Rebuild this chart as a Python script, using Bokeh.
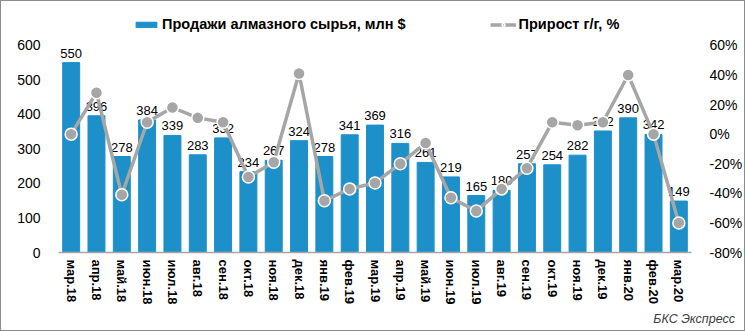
from bokeh.plotting import figure
from bokeh.models import (Range1d, LinearAxis, FixedTicker, PrintfTickFormatter,
                          ColumnDataSource, Legend, LegendItem, FactorRange, Div)
from bokeh.layouts import column
from bokeh.embed import file_html
from bokeh.resources import INLINE
from bokeh.core.properties import value

months = ["мар.18", "апр.18", "май.18", "июн.18", "июл.18", "авг.18", "сен.18", "окт.18",
          "ноя.18", "дек.18", "янв.19", "фев.19", "мар.19", "апр.19", "май.19", "июн.19",
          "июл.19", "авг.19", "сен.19", "окт.19", "ноя.19", "дек.19", "янв.20", "фев.20", "мар.20"]
sales = [550, 396, 278, 384, 339, 283, 332, 234, 267, 324, 278, 341, 369, 316, 261, 219,
         165, 180, 257, 254, 282, 352, 390, 342, 149]
growth = [0, 28, -41, 8, 18, 11, 8, -29, -19, 41, -45, -37, -33, -20, -6, -43,
          -52, -37, -23, 8, 6, 8, 40, 0, -60]
left_ticks = [0, 100, 200, 300, 400, 500, 600]
right_ticks = [-80, -60, -40, -20, 0, 20, 40, 60]

FONT = "Liberation Sans"
BAR = "#1E90C9"
GREY = "#A6A6A6"
BORDER = "1px solid #8C8C8C"

# layout: value axes span 208 px; extra 34 px above for the legend strip (inside frame)
AX_PX = 208.0
PAD_PX = 34.0
l_lo, l_hi = left_ticks[0], left_ticks[-1]
r_lo, r_hi = right_ticks[0], right_ticks[-1]
l_top = l_hi + PAD_PX * (l_hi - l_lo) / AX_PX
r_top = r_hi + PAD_PX * (r_hi - r_lo) / AX_PX

src = ColumnDataSource(dict(m=months, s=sales, g=growth, lbl=[str(v) for v in sales]))

p = figure(width=745, height=313, x_range=FactorRange(*months), y_range=Range1d(l_lo, l_top),
           output_backend="svg", toolbar_location=None,
           min_border_left=57, min_border_right=55, min_border_top=10, min_border_bottom=62)
p.styles = {"border-top": BORDER, "border-left": BORDER, "border-right": BORDER,
            "box-sizing": "border-box"}
p.outline_line_color = None
p.xgrid.grid_line_color = None
p.ygrid.grid_line_color = None
p.extra_y_ranges = {"pct": Range1d(r_lo, r_top)}

bars = p.vbar(x="m", top="s", width=0.67, source=src, color=BAR)
p.text(x="m", y="s", text="lbl", source=src, text_align="center", text_baseline="bottom",
       y_offset=-5, text_font=value(FONT), text_font_size="13px", text_color="#000000")
ln = p.line(x="m", y="g", source=src, y_range_name="pct", line_color=GREY, line_width=3.5)
sc = p.scatter(x="m", y="g", source=src, y_range_name="pct", size=12, fill_color=GREY,
               line_color="white", line_width=1.5)

# left axis
ya = p.yaxis[0]
ya.ticker = FixedTicker(ticks=left_ticks)
ya.axis_line_color = None
ya.major_tick_line_color = None
ya.minor_tick_line_color = None
ya.major_label_standoff = 12
ya.major_label_text_font = FONT
ya.major_label_text_font_size = "14px"
ya.major_label_text_color = "#000000"

# right axis
ra = LinearAxis(y_range_name="pct", ticker=FixedTicker(ticks=right_ticks),
                formatter=PrintfTickFormatter(format="%d%%"))
ra.axis_line_color = None
ra.major_tick_line_color = None
ra.minor_tick_line_color = None
ra.major_label_standoff = 12
ra.major_label_text_font = FONT
ra.major_label_text_font_size = "14px"
ra.major_label_text_color = "#000000"
p.add_layout(ra, "right")

xa = p.xaxis[0]
xa.axis_line_color = "#A6A6A6"
xa.axis_line_width = 1.5
xa.major_tick_line_color = None
xa.major_tick_out = 0
xa.major_label_orientation = "vertical"
xa.major_label_standoff = 7
xa.major_label_text_font = FONT
xa.major_label_text_font_style = "bold"
xa.major_label_text_font_size = "13px"
xa.major_label_text_color = "#000000"

legend = Legend(items=[LegendItem(label="Продажи алмазного сырья, млн $", renderers=[bars]),
                       LegendItem(label="Прирост г/г, %", renderers=[ln, sc])],
                orientation="horizontal", location=(75, 220), spacing=84,
                glyph_width=26, glyph_height=7, label_standoff=3,
                label_text_font=FONT, label_text_font_style="bold", label_text_font_size="14.5px",
                label_text_color="#000000", background_fill_alpha=0, border_line_color=None,
                padding=0, margin=0)
p.add_layout(legend, "center")

# footer strip with the source note
foot = Div(text="БКС Экспресс", width=745, height=18,
           styles={"border-bottom": BORDER, "border-left": BORDER, "border-right": BORDER,
                   "box-sizing": "border-box", "text-align": "right", "padding-right": "9px",
                   "font-family": "'Liberation Sans', Arial, sans-serif", "font-style": "italic",
                   "font-size": "12.5px", "line-height": "12px", "color": "#404040",
                   "margin": "0", "background": "white"})

lay = column(p, foot, spacing=0)
open("out.html", "w").write(file_html(lay, INLINE))
